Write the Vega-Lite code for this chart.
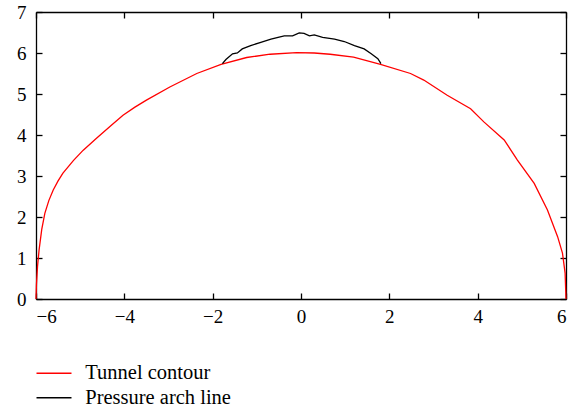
{
  "$schema": "https://vega.github.io/schema/vega-lite/v6.json",
  "width": 530,
  "height": 287,
  "autosize": "none",
  "padding": {"left": 36, "top": 12, "right": 9, "bottom": 114},
  "background": "white",
  "config": {
    "view": {"stroke": null},
    "font": "Liberation Serif",
    "axis": {
      "grid": false,
      "domainColor": "black",
      "domainWidth": 1.3,
      "labelFont": "Liberation Serif",
      "labelFontSize": 19,
      "labelColor": "black",
      "title": null
    }
  },
  "data": {
    "values": [
      {"s": "Tunnel contour", "x": -6, "y": 0},
      {"s": "Tunnel contour", "x": -5.99, "y": 0.35},
      {"s": "Tunnel contour", "x": -5.965, "y": 0.8},
      {"s": "Tunnel contour", "x": -5.93, "y": 1.2},
      {"s": "Tunnel contour", "x": -5.87, "y": 1.7},
      {"s": "Tunnel contour", "x": -5.8, "y": 2.09},
      {"s": "Tunnel contour", "x": -5.71, "y": 2.4},
      {"s": "Tunnel contour", "x": -5.61, "y": 2.66},
      {"s": "Tunnel contour", "x": -5.5, "y": 2.88},
      {"s": "Tunnel contour", "x": -5.39, "y": 3.07},
      {"s": "Tunnel contour", "x": -5.15, "y": 3.38},
      {"s": "Tunnel contour", "x": -4.93, "y": 3.63},
      {"s": "Tunnel contour", "x": -4.63, "y": 3.92},
      {"s": "Tunnel contour", "x": -4.3, "y": 4.23},
      {"s": "Tunnel contour", "x": -4.03, "y": 4.48},
      {"s": "Tunnel contour", "x": -3.76, "y": 4.68},
      {"s": "Tunnel contour", "x": -3.5, "y": 4.85},
      {"s": "Tunnel contour", "x": -2.97, "y": 5.17},
      {"s": "Tunnel contour", "x": -2.36, "y": 5.5},
      {"s": "Tunnel contour", "x": -1.81, "y": 5.72},
      {"s": "Tunnel contour", "x": -1.23, "y": 5.89},
      {"s": "Tunnel contour", "x": -0.7, "y": 5.97},
      {"s": "Tunnel contour", "x": -0.1, "y": 6.01},
      {"s": "Tunnel contour", "x": 0.3, "y": 6.0},
      {"s": "Tunnel contour", "x": 0.66, "y": 5.97},
      {"s": "Tunnel contour", "x": 1.19, "y": 5.9},
      {"s": "Tunnel contour", "x": 1.8, "y": 5.72},
      {"s": "Tunnel contour", "x": 2.48, "y": 5.5},
      {"s": "Tunnel contour", "x": 2.78, "y": 5.34},
      {"s": "Tunnel contour", "x": 3.31, "y": 4.97},
      {"s": "Tunnel contour", "x": 3.84, "y": 4.64},
      {"s": "Tunnel contour", "x": 4.14, "y": 4.32},
      {"s": "Tunnel contour", "x": 4.6, "y": 3.88},
      {"s": "Tunnel contour", "x": 4.9, "y": 3.39},
      {"s": "Tunnel contour", "x": 5.28, "y": 2.82},
      {"s": "Tunnel contour", "x": 5.58, "y": 2.17},
      {"s": "Tunnel contour", "x": 5.81, "y": 1.52},
      {"s": "Tunnel contour", "x": 5.92, "y": 1.12},
      {"s": "Tunnel contour", "x": 5.98, "y": 0.63},
      {"s": "Tunnel contour", "x": 6, "y": 0},
      {"s": "Pressure arch line", "x": -1.78, "y": 5.74},
      {"s": "Pressure arch line", "x": -1.7, "y": 5.84},
      {"s": "Pressure arch line", "x": -1.55, "y": 5.98},
      {"s": "Pressure arch line", "x": -1.44, "y": 6.0},
      {"s": "Pressure arch line", "x": -1.33, "y": 6.1},
      {"s": "Pressure arch line", "x": -1.14, "y": 6.18},
      {"s": "Pressure arch line", "x": -0.91, "y": 6.26},
      {"s": "Pressure arch line", "x": -0.68, "y": 6.34},
      {"s": "Pressure arch line", "x": -0.38, "y": 6.42},
      {"s": "Pressure arch line", "x": -0.19, "y": 6.42},
      {"s": "Pressure arch line", "x": -0.04, "y": 6.49},
      {"s": "Pressure arch line", "x": 0.07, "y": 6.48},
      {"s": "Pressure arch line", "x": 0.19, "y": 6.42},
      {"s": "Pressure arch line", "x": 0.3, "y": 6.44},
      {"s": "Pressure arch line", "x": 0.49, "y": 6.38},
      {"s": "Pressure arch line", "x": 0.76, "y": 6.34},
      {"s": "Pressure arch line", "x": 0.98, "y": 6.28},
      {"s": "Pressure arch line", "x": 1.21, "y": 6.18},
      {"s": "Pressure arch line", "x": 1.43, "y": 6.1},
      {"s": "Pressure arch line", "x": 1.59, "y": 5.98},
      {"s": "Pressure arch line", "x": 1.74, "y": 5.86},
      {"s": "Pressure arch line", "x": 1.81, "y": 5.74}
    ]
  },
  "layer": [
    {
      "mark": {"type": "line", "strokeWidth": 1.3},
      "encoding": {
        "x": {"field": "x", "type": "quantitative", "scale": {"domain": [-6, 6], "nice": false, "zero": false},
              "axis": {"values": [-6, -4, -2, 0, 2, 4, 6], "tickSize": -6, "tickColor": "black", "tickWidth": 1.3,
                       "labelPadding": 29, "labelBaseline": "alphabetic"}},
        "y": {"field": "y", "type": "quantitative", "scale": {"domain": [0, 7], "nice": false},
              "axis": {"values": [0, 1, 2, 3, 4, 5, 6, 7], "tickSize": -6, "tickColor": "black", "tickWidth": 1.3, "labelPadding": 16}},
        "color": {"field": "s", "type": "nominal",
                  "scale": {"domain": ["Tunnel contour", "Pressure arch line"], "range": ["#ff0000", "#000000"]},
                  "legend": {"title": null, "orient": "none", "legendX": 7.75, "legendY": 351,
                             "symbolType": "M-2,0H2", "symbolSize": 306, "symbolStrokeWidth": 1.3,
                             "labelFont": "Liberation Serif", "labelFontSize": 20.5, "labelColor": "black",
                             "labelOffset": 21, "rowPadding": 3.5, "padding": 0}}
      }
    },
    {
      "mark": {"type": "line", "opacity": 0},
      "encoding": {
        "x": {"field": "x", "type": "quantitative", "axis": {"orient": "top", "labels": false, "values": [-6, -4, -2, 0, 2, 4, 6], "tickSize": -6, "tickColor": "black", "tickWidth": 1.3}},
        "y": {"field": "y", "type": "quantitative", "axis": {"orient": "right", "labels": false, "values": [0, 1, 2, 3, 4, 5, 6, 7], "tickSize": -6, "tickColor": "black", "tickWidth": 1.3}}
      }
    }
  ],
  "resolve": {"axis": {"x": "independent", "y": "independent"}}
}
